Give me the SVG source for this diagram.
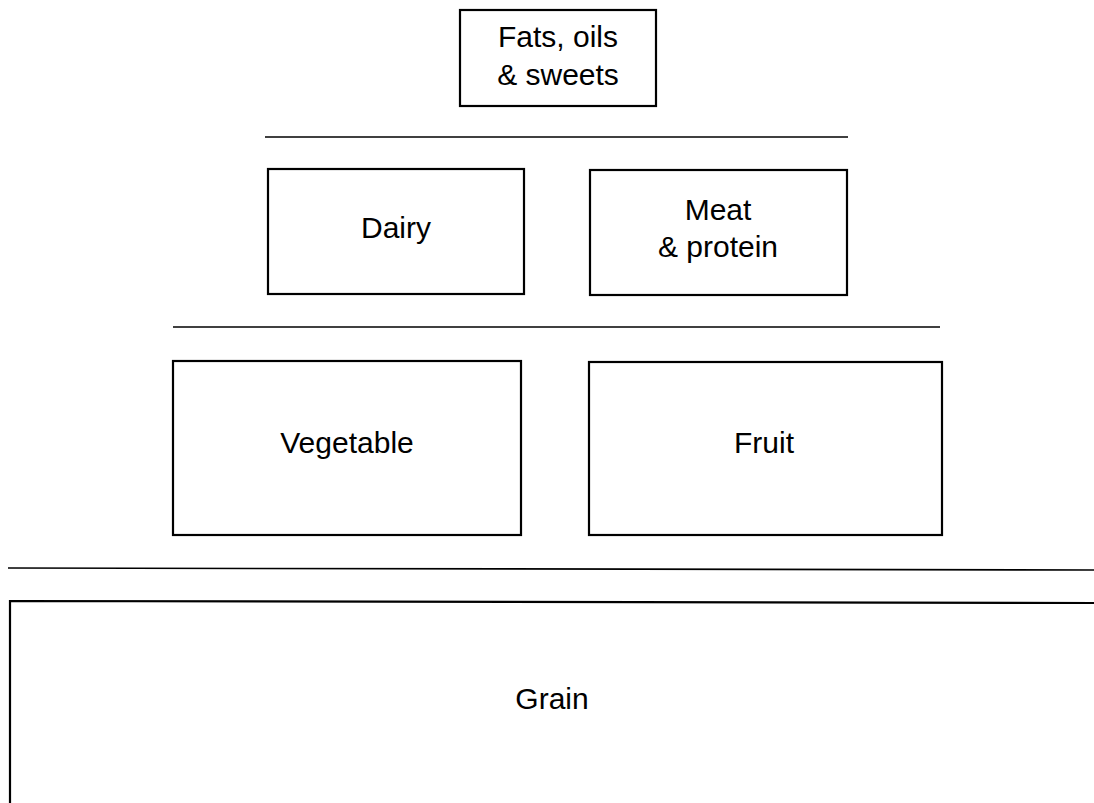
<svg xmlns="http://www.w3.org/2000/svg" width="1094" height="803" viewBox="0 0 1094 803">
<style>
.box{fill:none;stroke:#000;stroke-width:2.2}
.sep{stroke:#000;stroke-width:1.6;fill:none}
.lbl{font-family:"Liberation Sans",Arial,sans-serif;font-size:30px;fill:#000;text-anchor:middle}
</style>
<rect width="1094" height="803" fill="#fff"/>
<g id="separators">
<line class="sep" x1="265" y1="137" x2="848" y2="137"/>
<line class="sep" x1="173" y1="327" x2="940" y2="327"/>
<line class="sep" x1="8" y1="568" x2="1094" y2="570"/>
</g>
<g id="fats">
<rect class="box" x="460" y="10" width="196" height="96"/>
<text class="lbl" x="558" y="47">Fats, oils</text>
<text class="lbl" x="558" y="85">&amp; sweets</text>
</g>
<g id="dairy">
<rect class="box" x="268" y="169" width="256" height="125"/>
<text class="lbl" x="396" y="238">Dairy</text>
</g>
<g id="meat">
<rect class="box" x="590" y="170" width="257" height="125"/>
<text class="lbl" x="718" y="220">Meat</text>
<text class="lbl" x="718" y="257">&amp; protein</text>
</g>
<g id="vegetable">
<rect class="box" x="173" y="361" width="348" height="174"/>
<text class="lbl" x="347" y="453">Vegetable</text>
</g>
<g id="fruit">
<rect class="box" x="589" y="362" width="353" height="173"/>
<text class="lbl" x="764" y="453">Fruit</text>
</g>
<g id="grain">
<path class="box" d="M10,815 L10,601 L1100,603"/>
<text class="lbl" x="552" y="709">Grain</text>
</g>
</svg>
